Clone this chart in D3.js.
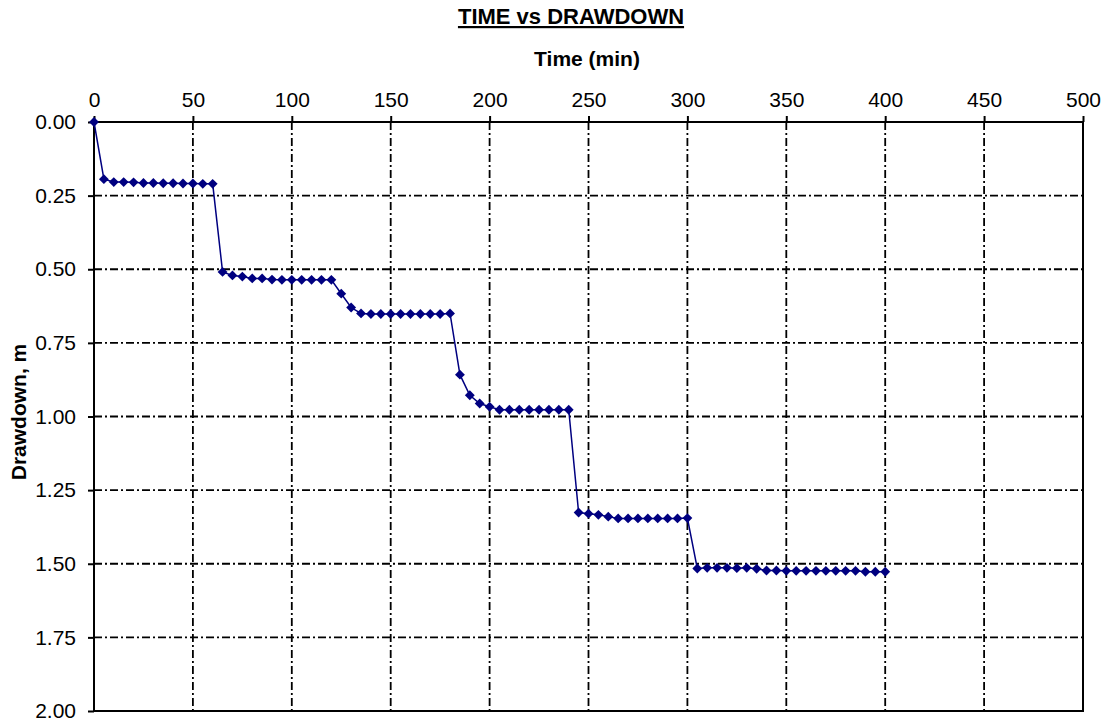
<!DOCTYPE html>
<html>
<head>
<meta charset="utf-8">
<script src="https://cdn.jsdelivr.net/npm/d3@7"></script>
<style>
  body { margin: 0; background: #fff; }
  svg { font-family: "Liberation Sans", Arial, sans-serif; }
</style>
</head>
<body>
<div id="graph"></div>
<script>
// time in minutes, drawdown in metres
const times = [0, 5, 10, 15, 20, 25, 30, 35, 40, 45, 50, 55, 60,
  65, 70, 75, 80, 85, 90, 95, 100, 105, 110, 115, 120,
  125, 130, 135, 140, 145, 150, 155, 160, 165, 170, 175, 180,
  185, 190, 195, 200, 205, 210, 215, 220, 225, 230, 235, 240,
  245, 250, 255, 260, 265, 270, 275, 280, 285, 290, 295, 300,
  305, 310, 315, 320, 325, 330, 335, 340, 345, 350, 355, 360, 365, 370, 375, 380, 385, 390, 395, 400];
const drawdown = [0, 0.194, 0.204, 0.204, 0.205, 0.207, 0.207, 0.208, 0.208, 0.209, 0.209, 0.210, 0.210,
  0.509, 0.521, 0.525, 0.531, 0.531, 0.535, 0.536, 0.536, 0.536, 0.536, 0.536, 0.536,
  0.583, 0.630, 0.650, 0.652, 0.652, 0.652, 0.652, 0.652, 0.652, 0.652, 0.652, 0.650,
  0.858, 0.928, 0.956, 0.967, 0.977, 0.977, 0.977, 0.977, 0.977, 0.977, 0.977, 0.977,
  1.326, 1.330, 1.334, 1.340, 1.346, 1.346, 1.346, 1.346, 1.346, 1.346, 1.346, 1.345,
  1.516, 1.514, 1.514, 1.514, 1.515, 1.514, 1.517, 1.523, 1.523, 1.524, 1.524, 1.524, 1.524, 1.524, 1.524, 1.524, 1.524, 1.527, 1.527, 1.527];
const xTicks = [0, 50, 100, 150, 200, 250, 300, 350, 400, 450, 500];
const yTicks = [0, 0.25, 0.5, 0.75, 1.0, 1.25, 1.5, 1.75, 2.0];

const w = 1107;
const h = 721;
const margin = { top: 122, right: 24, bottom: 10, left: 94 };
const innerWidth = w - margin.left - margin.right;
const innerHeight = h - margin.top - margin.bottom;

const data = times.map((t, i) => ({ t: t, d: drawdown[i] }));

const x = d3.scaleLinear().domain([0, 500]).range([0, innerWidth]);
const y = d3.scaleLinear().domain([0, 2]).range([0, innerHeight]);

const svg = d3.select("#graph")
  .append("svg")
  .attr("width", w)
  .attr("height", h);

const g = svg.append("g")
  .attr("transform", `translate(${margin.left},${margin.top})`);

// dash-dot grid
const dash = "8,3,2,3";
g.append("g")
  .selectAll("line")
  .data(xTicks.slice(1))
  .enter()
  .append("line")
  .attr("x1", d => x(d)).attr("x2", d => x(d))
  .attr("y1", 0).attr("y2", innerHeight)
  .attr("stroke", "#000")
  .attr("stroke-width", 1.8)
  .attr("stroke-dasharray", dash);

g.append("g")
  .selectAll("line")
  .data(yTicks.slice(1))
  .enter()
  .append("line")
  .attr("x1", 0).attr("x2", innerWidth)
  .attr("y1", d => y(d)).attr("y2", d => y(d))
  .attr("stroke", "#000")
  .attr("stroke-width", 1.8)
  .attr("stroke-dasharray", dash);

// frame
g.append("rect")
  .attr("width", innerWidth)
  .attr("height", innerHeight)
  .attr("fill", "none")
  .attr("stroke", "#000")
  .attr("stroke-width", 2);

// axes
const xAxis = d3.axisTop(x).tickValues(xTicks).tickSize(6).tickPadding(9);
const yAxis = d3.axisLeft(y).tickValues(yTicks).tickSize(6).tickPadding(12)
  .tickFormat(d3.format(".2f"));

g.append("g").call(xAxis)
  .call(s => s.select(".domain").remove())
  .call(s => s.selectAll("line").attr("stroke-width", 2))
  .call(s => s.selectAll("text").attr("font-size", 21).attr("fill", "#000")
    .attr("font-family", "Liberation Sans, Arial, sans-serif"));

g.append("g").call(yAxis)
  .call(s => s.select(".domain").remove())
  .call(s => s.selectAll("line").attr("stroke-width", 2))
  .call(s => s.selectAll("text").attr("font-size", 21).attr("fill", "#000")
    .attr("font-family", "Liberation Sans, Arial, sans-serif"));

// line and markers
const line = d3.line().x(d => x(d.t)).y(d => y(d.d));

g.append("path")
  .datum(data)
  .attr("d", line)
  .attr("fill", "none")
  .attr("stroke", "#000080")
  .attr("stroke-width", 1.5);

g.append("g")
  .selectAll("path")
  .data(data)
  .enter()
  .append("path")
  .attr("d", d3.symbol().type(d3.symbolDiamond2).size(62))
  .attr("transform", d => `translate(${x(d.t)},${y(d.d)})`)
  .attr("fill", "#000080");

// titles
svg.append("text")
  .attr("x", 571).attr("y", 24)
  .attr("text-anchor", "middle")
  .attr("font-size", 22)
  .attr("font-weight", "bold")
  .attr("text-decoration", "underline")
  .text("TIME vs DRAWDOWN");

svg.append("text")
  .attr("x", 587).attr("y", 66)
  .attr("text-anchor", "middle")
  .attr("font-size", 21)
  .attr("font-weight", "bold")
  .text("Time (min)");

svg.append("text")
  .attr("transform", "translate(26,412) rotate(-90)")
  .attr("text-anchor", "middle")
  .attr("font-size", 21)
  .attr("font-weight", "bold")
  .text("Drawdown,  m");
</script>
</body>
</html>
